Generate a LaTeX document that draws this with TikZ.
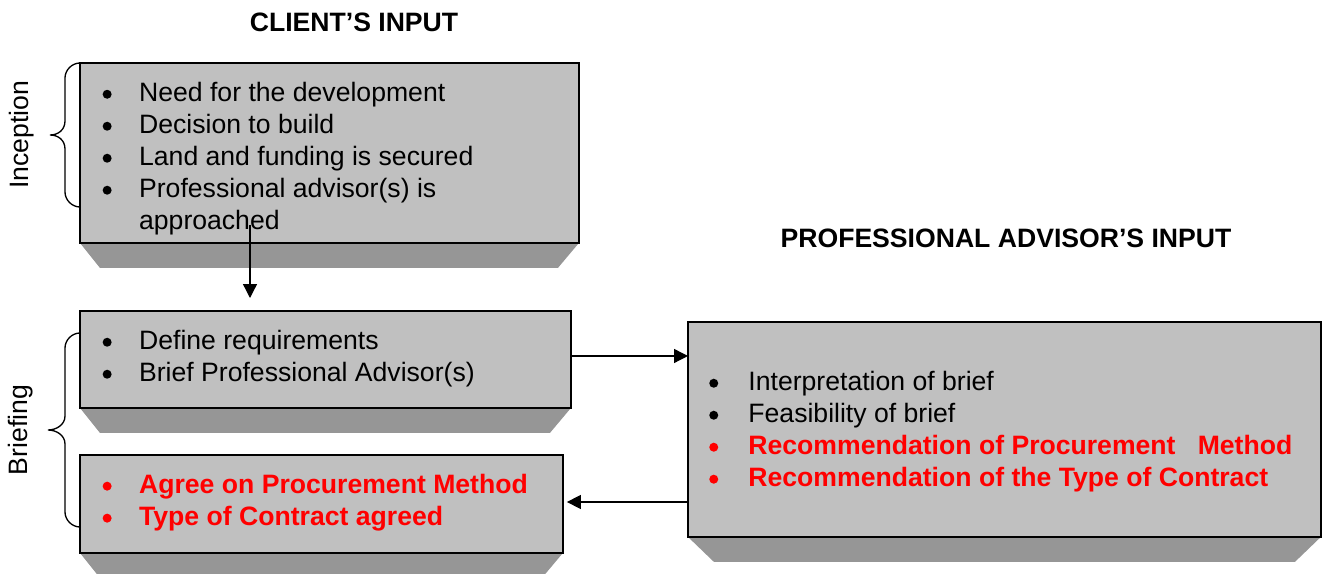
\documentclass[tikz,border=0pt]{standalone}
\usepackage{fontspec}
\setmainfont{Liberation Sans}
\usetikzlibrary{arrows.meta,backgrounds}

\definecolor{boxgray}{RGB}{192,192,192}
\definecolor{shadegray}{RGB}{150,150,150}
\definecolor{hotred}{RGB}{255,0,0}

% round list bullet in the current text colour
\newcommand\listdot{\tikz[baseline=0pt]\fill (2.03pt,3.45pt) circle[radius=2.03pt];}
% one bulleted line: bullet in a fixed-width slot, then the text
\newcommand\bulletitem[2][16.46pt]{\makebox[#1][l]{\listdot}#2}
% bevelled shadow under a box: node name, left inset, right inset
\newcommand\boxshade[3]{%
  \fill[shadegray] (#1.south west) -- (#1.south east)
    -- ([xshift=-#3,yshift=-11.28pt]#1.south east)
    -- ([xshift=#2,yshift=-11.28pt]#1.south west) -- cycle;}

\begin{document}
\begin{tikzpicture}[x=0.4511pt,y=-0.4511pt,
  box/.style={draw=black,line width=0.9pt,fill=boxgray,anchor=north west,
              inner sep=0pt,outer sep=0pt},
  list/.style={anchor=west,align=left,inner sep=0pt,
               font=\fontsize{12}{14.43}\selectfont},
  title/.style={inner sep=0pt,font=\fontsize{12}{14.43}\selectfont\bfseries},
  phase/.style={rotate=90,inner sep=0pt,font=\fontsize{12}{14.43}\selectfont},
  arr/.style={line width=0.6pt,-{Triangle[length=6.3pt,width=6.3pt]}},
  brace/.style={line width=0.6pt}]
\useasboundingbox (0,0) rectangle (1325,574);
\clip (0,0) rectangle (1325,574);

% headings
\node[title] (client) at (354,22) {CLIENT’S INPUT};
\node[title] (advisor) at (1006,238) {PROFESSIONAL ADVISOR’S INPUT};

% phase labels
\node[phase] (inception) at (22,135) {Inception};
\node[phase] (briefing) at (21,430) {Briefing};

% boxes
\node[box,minimum width=225.05pt,minimum height=81.18pt] (box1) at (80,63) {};
\node[box,minimum width=221.44pt,minimum height=43.75pt] (box2) at (80,311) {};
\node[box,minimum width=217.83pt,minimum height=44.20pt] (box3) at (80,455) {};
\node[box,minimum width=285.48pt,minimum height=96.97pt] (box4) at (688,322) {};

\begin{scope}[on background layer]
  \boxshade{box1}{9.02pt}{9.47pt}
  \boxshade{box2}{9.02pt}{9.47pt}
  \boxshade{box3}{9.02pt}{9.47pt}
  \boxshade{box4}{11.73pt}{11.73pt}
\end{scope}

% box contents
\node[list] (t1) at (102.2,159) {%
  \bulletitem{Need for the development}\\
  \bulletitem{Decision to build}\\
  \bulletitem{Land and funding is secured}\\
  \bulletitem{Professional advisor(s) is}\\
  \hspace*{16.46pt}approached};
\node[list] (t2) at (102.2,359) {%
  \bulletitem{Define requirements}\\
  \bulletitem{Brief Professional Advisor(s)}};
\node[list] (t3) at (102.2,503) {%
  \textcolor{hotred}{\bfseries\bulletitem{Agree on Procurement Method}}\\
  \textcolor{hotred}{\bfseries\bulletitem{Type of Contract agreed}}};
\node[list] (t4) at (708.8,432) {%
  \bulletitem[17.68pt]{Interpretation of brief}\\
  \bulletitem[17.68pt]{Feasibility of brief}\\
  \textcolor{hotred}{\bfseries\bulletitem[17.68pt]{Recommendation of Procurement\ \ \ Method}}\\
  \textcolor{hotred}{\bfseries\bulletitem[17.68pt]{Recommendation of the Type of Contract}}};

% braces
\draw[brace] (box1.north west) .. controls (72,63) and (65,70) .. (65,78)
  -- (65,121) .. controls (65,130) and (58,135) .. (50,135)
  .. controls (58,135) and (65,140) .. (65,149)
  -- (65,192) .. controls (65,200) and (72,207) .. (80,207);
\draw[brace] (80,333) .. controls (72,333) and (65,340) .. (65,348)
  -- (65,416) .. controls (65,425) and (56,430) .. (48,430)
  .. controls (56,430) and (65,435) .. (65,444)
  -- (65,512) .. controls (65,520) and (72,527) .. (80,527);

% connectors
\coordinate (drop) at (250,225);
\draw[arr,shorten >=5.86pt] (drop) -- (drop |- box2.north);
\draw[arr] ([yshift=1.58pt]box2.east) -- ([yshift=1.58pt]box2.east -| box4.west);
\draw[arr,shorten >=1.8pt] ([yshift=0.9pt]box3.east -| box4.west) -- ([yshift=0.9pt]box3.east);
\end{tikzpicture}
\end{document}
